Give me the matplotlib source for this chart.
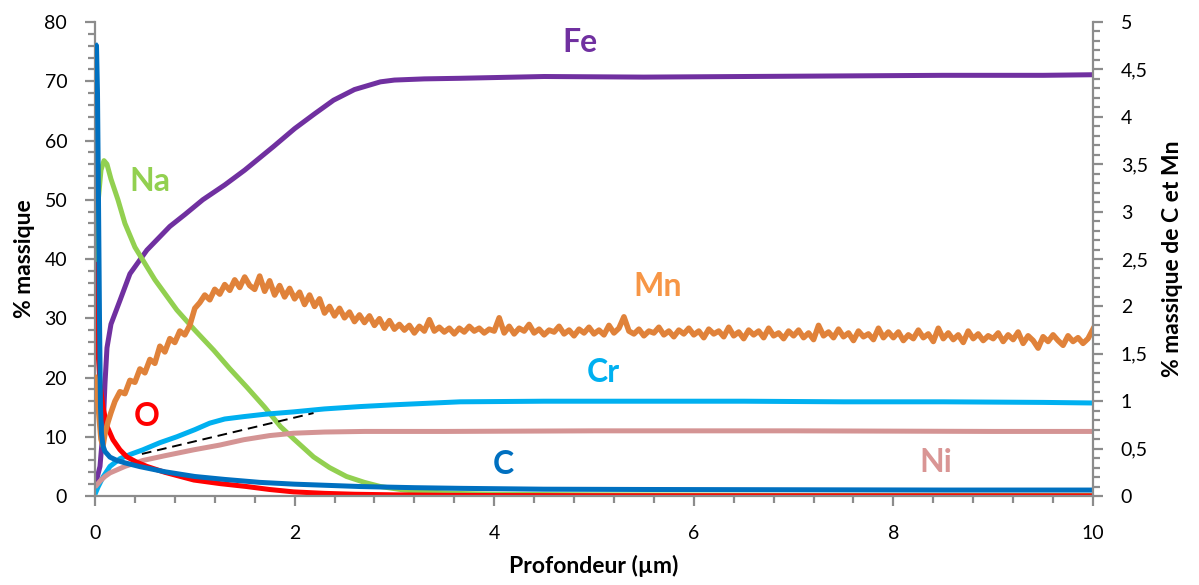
import numpy as np
import matplotlib
matplotlib.use('Agg')
import matplotlib.pyplot as plt
from matplotlib.ticker import MultipleLocator, FuncFormatter

# ---------------- data (left axis: % massique) ----------------
fe_x = [0, 0.02, 0.05, 0.08, 0.10, 0.12, 0.16, 0.25, 0.35, 0.52, 0.75, 0.9, 1.08, 1.3, 1.5,
        1.79, 2.0, 2.2, 2.39, 2.6, 2.86, 3.0, 3.3, 3.66, 4.5, 5.5, 6.5, 7.5, 8.5, 9.5, 10]
fe_y = [1.5, 3, 5, 11, 19, 25, 29, 33, 37.5, 41.5, 45.5, 47.5, 50, 52.5, 55,
        59, 62, 64.5, 66.8, 68.6, 69.9, 70.2, 70.4, 70.5, 70.8, 70.7, 70.8, 70.9, 71.0, 71.0, 71.1]

na_x = [0, 0.033, 0.06, 0.09, 0.12, 0.16, 0.23, 0.3, 0.4, 0.48, 0.6, 0.82, 1.0, 1.19, 1.35, 1.52,
        1.7, 1.86, 2.0, 2.19, 2.35, 2.52, 2.7, 2.86, 3.1, 3.3, 3.6, 4.0, 5, 6, 7, 8, 9, 10]
na_y = [35, 50, 55, 56.6, 56, 53.5, 50, 46, 42, 39.8, 36.5, 31.4, 28, 24.6, 21.5, 18.4,
        15, 11.7, 9.5, 6.6, 4.8, 3.3, 2.3, 1.6, 1.0, 0.7, 0.45, 0.3, 0.2, 0.15, 0.1, 0.1, 0.1, 0.1]

o_x = [0, 0.01, 0.03, 0.05, 0.08, 0.12, 0.18, 0.25, 0.32, 0.42, 0.52, 0.7, 0.99, 1.25, 1.52,
       1.75, 1.99, 2.3, 2.6, 3.0, 3.5, 4, 5, 6, 8, 10]
o_y = [39.5, 36, 24.6, 19, 15, 11.8, 9.5, 7.8, 6.6, 5.7, 5.0, 4.0, 2.7, 2.1, 1.6,
       1.1, 0.7, 0.45, 0.3, 0.2, 0.12, 0.08, 0.05, 0.04, 0.03, 0.03]

cr_x = [0, 0.03, 0.08, 0.15, 0.25, 0.35, 0.48, 0.65, 0.82, 1.0, 1.15, 1.3, 1.49, 1.7, 1.99,
        2.3, 2.66, 3.0, 3.66, 4.5, 5.5, 6.5, 7.5, 8.5, 9.5, 10]
cr_y = [0.3, 1.5, 3.2, 5.0, 6.3, 7.0, 7.8, 9.0, 10.0, 11.2, 12.3, 13.0, 13.4, 13.8, 14.2,
        14.7, 15.1, 15.4, 15.9, 16.0, 16.0, 16.0, 15.9, 15.9, 15.8, 15.7]

ni_x = [0, 0.05, 0.1, 0.15, 0.3, 0.48, 0.7, 0.99, 1.25, 1.49, 1.75, 1.99, 2.3, 2.7, 3.5, 5, 7, 9, 10]
ni_y = [1.5, 2.5, 3.3, 3.9, 5.0, 6.0, 6.8, 7.8, 8.6, 9.5, 10.2, 10.6, 10.8, 10.9, 10.9, 11.0, 11.0, 10.9, 10.9]

dash_x = [0.47, 2.19]
dash_y = [7.1, 14.0]

# ---------------- data (right axis: % massique de C et Mn) ----------------
c_x = [0, 0.015, 0.025, 0.035, 0.045, 0.055, 0.065, 0.08, 0.1, 0.15, 0.22, 0.3, 0.45, 0.7, 1.0,
       1.3, 1.65, 2.0, 2.66, 3.2, 3.66, 4.5, 5.5, 7, 8.5, 10]
c_y = [4.77, 4.75, 4.25, 3.12, 1.88, 0.94, 0.66, 0.53, 0.47, 0.41, 0.375, 0.35, 0.31, 0.256, 0.206,
       0.175, 0.144, 0.125, 0.10, 0.088, 0.081, 0.072, 0.069, 0.066, 0.063, 0.063]

mn_x_surface = [0, 0.02, 0.04, 0.06, 0.08, 0.10, 0.13, 0.16]
mn_y_surface = [1.25, 1.12, 0.85, 0.60, 0.53, 0.66, 0.78, 0.88]
mn_y_depth = [
    1.00, 1.10, 1.08, 1.22, 1.20, 1.34, 1.30, 1.44, 1.40, 1.58, 1.52, 1.66, 1.62, 1.74, 1.70, 1.80,
    1.98, 2.04, 2.12, 2.07, 2.18, 2.13, 2.23, 2.17, 2.28, 2.20, 2.31, 2.22, 2.18, 2.32, 2.16, 2.27, 2.12, 2.22, 2.10, 2.19,
    2.08, 2.15, 2.02, 2.12, 2.00, 2.08, 1.93, 2.00, 1.90, 1.98, 1.88, 1.94, 1.84, 1.91, 1.83, 1.90, 1.80, 1.87, 1.77, 1.85,
    1.76, 1.81, 1.75, 1.80, 1.72, 1.79, 1.74, 1.86, 1.74, 1.78, 1.73, 1.77, 1.71, 1.77, 1.73, 1.79, 1.74, 1.77, 1.72, 1.76,
    1.74, 1.88, 1.72, 1.79, 1.71, 1.77, 1.74, 1.81, 1.72, 1.76, 1.70, 1.75, 1.73, 1.79, 1.71, 1.75, 1.69, 1.76, 1.72, 1.78,
    1.71, 1.75, 1.70, 1.80, 1.72, 1.77, 1.89, 1.74, 1.71, 1.76, 1.69, 1.74, 1.72, 1.78, 1.70, 1.74, 1.68, 1.75, 1.71, 1.77,
    1.70, 1.74, 1.67, 1.76, 1.71, 1.74, 1.68, 1.78, 1.69, 1.73, 1.66, 1.75, 1.70, 1.74, 1.67, 1.77, 1.69, 1.72, 1.66, 1.74,
    1.69, 1.75, 1.67, 1.72, 1.65, 1.80, 1.69, 1.73, 1.67, 1.76, 1.68, 1.72, 1.64, 1.74, 1.68, 1.71, 1.65, 1.77, 1.67, 1.73,
    1.67, 1.73, 1.64, 1.70, 1.66, 1.75, 1.67, 1.71, 1.63, 1.77, 1.66, 1.72, 1.65, 1.70, 1.62, 1.74, 1.66, 1.71, 1.64, 1.69,
    1.66, 1.72, 1.63, 1.70, 1.65, 1.73, 1.61, 1.69, 1.64, 1.56, 1.68, 1.63, 1.70, 1.64, 1.59, 1.69, 1.63, 1.67, 1.61, 1.66, 1.76,
]
mn_x_depth = np.round(np.arange(0.20, 10.0001, 0.05), 2)[:len(mn_y_depth)]

x_ticks_major = [0, 2, 4, 6, 8, 10]

# ---------------- styling ----------------
plt.rcParams['font.family'] = ['Lato', 'DejaVu Sans']
GRAY = '#8C8C8C'
COL = {
    'Fe': '#7030A0', 'Na': '#92D050', 'O': '#FF0000', 'Cr': '#00B0F0',
    'Ni': '#D49494', 'C': '#0070C0', 'Mn': '#E0823A',
}
LW = 3.6

fig = plt.figure(figsize=(11.99, 5.85), dpi=100)
ax = fig.add_axes([0.07923, 0.1521, 0.83236, 0.8103])
ax2 = ax.twinx()

ax.plot(fe_x, fe_y, color=COL['Fe'], lw=LW, solid_capstyle='butt')
ax.plot(na_x, na_y, color=COL['Na'], lw=LW, solid_capstyle='butt')
ax.plot(cr_x, cr_y, color=COL['Cr'], lw=LW, solid_capstyle='butt')
ax.plot(ni_x, ni_y, color=COL['Ni'], lw=LW, solid_capstyle='butt')
ax.plot(o_x, o_y, color=COL['O'], lw=LW, solid_capstyle='butt')
ax.plot(dash_x, dash_y, color='black', lw=1.4, ls=(0, (5, 3)))

ax2.plot(list(mn_x_surface) + list(mn_x_depth), list(mn_y_surface) + list(mn_y_depth),
         color=COL['Mn'], lw=4.0, solid_joinstyle='round')
ax2.plot(c_x, c_y, color=COL['C'], lw=LW, solid_capstyle='butt')

ax.set_xlim(0, 10)
ax.set_ylim(0, 80)
ax2.set_ylim(0, 5)

for a in (ax, ax2):
    a.spines['top'].set_visible(False)
    for s in a.spines.values():
        s.set_color(GRAY)
        s.set_linewidth(1.6)
ax.spines['right'].set_visible(False)
ax2.spines['left'].set_visible(False)
ax2.spines['bottom'].set_visible(False)

ax.set_xticks(x_ticks_major)
ax.xaxis.set_minor_locator(MultipleLocator(0.4))
ax.yaxis.set_major_locator(MultipleLocator(10))
ax.yaxis.set_minor_locator(MultipleLocator(2))
ax2.yaxis.set_major_locator(MultipleLocator(0.5))
ax2.yaxis.set_minor_locator(MultipleLocator(0.1))
ax2.yaxis.set_major_formatter(FuncFormatter(lambda v, _: ('%g' % v).replace('.', ',')))

ax.tick_params(axis='x', which='major', direction='out', length=7, width=1.6, color=GRAY,
               labelsize=14, pad=14)
ax.tick_params(axis='x', which='minor', direction='out', length=5, width=1.6, color=GRAY)
ax.tick_params(axis='y', which='major', direction='out', length=7, width=1.6, color=GRAY,
               labelsize=14, pad=13)
ax.tick_params(axis='y', which='minor', direction='out', length=5, width=1.6, color=GRAY)
ax2.tick_params(axis='y', which='major', direction='out', length=7, width=1.6, color=GRAY,
                labelsize=14, pad=13)
ax2.tick_params(axis='y', which='minor', direction='out', length=5, width=1.6, color=GRAY)

ax.set_xlabel('Profondeur (µm)', fontsize=16.5, fontweight='bold', labelpad=9)
ax.set_ylabel('% massique', fontsize=16.5, fontweight='bold', labelpad=7)
ax2.set_ylabel('% massique de C et Mn', fontsize=16.5, fontweight='bold', labelpad=10)

lab_kw = dict(fontsize=23, fontweight='bold', ha='center', va='center')
ax.text(4.86, 76.6, 'Fe', color=COL['Fe'], **lab_kw)
ax.text(0.55, 53.0, 'Na', color=COL['Na'], **lab_kw)
ax.text(5.64, 35.3, 'Mn', color='#F79646', **lab_kw)
ax.text(5.09, 20.9, 'Cr', color=COL['Cr'], **lab_kw)
ax.text(0.52, 13.5, 'O', color=COL['O'], **lab_kw)
ax.text(4.09, 5.4, 'C', color=COL['C'], **lab_kw)
ax.text(8.42, 5.7, 'Ni', color='#D99594', **lab_kw)

fig.savefig('out.png', dpi=100)
